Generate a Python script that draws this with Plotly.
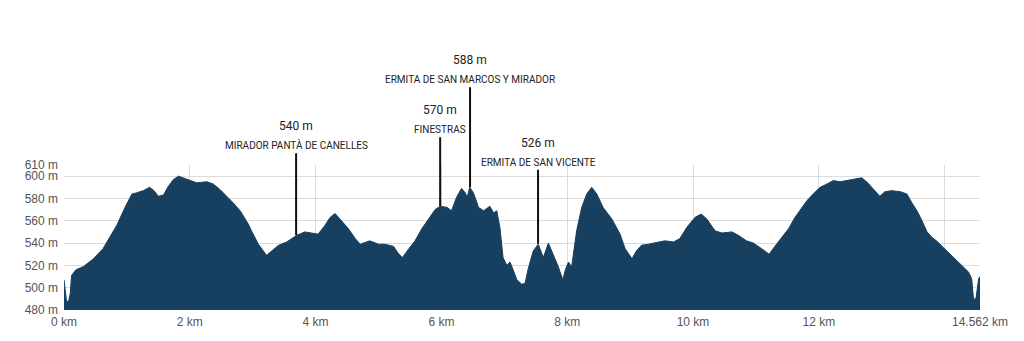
import plotly.graph_objects as go

# Elevation profile (distance km, elevation m)
dist_km = [0.00, 0.02, 0.04, 0.07, 0.10, 0.12, 0.19, 0.31, 0.47, 0.62, 0.73, 0.84, 0.97, 1.08, 1.15,
           1.26, 1.36, 1.43, 1.50, 1.58, 1.66, 1.74, 1.82, 1.92, 2.03, 2.11, 2.27, 2.37, 2.48, 2.59,
           2.69, 2.80, 2.93, 2.98, 3.09, 3.22, 3.30, 3.41, 3.54, 3.70, 3.83, 3.94, 4.04, 4.15, 4.23,
           4.31, 4.41, 4.52, 4.63, 4.71, 4.86, 5.00, 5.10, 5.24, 5.31, 5.38, 5.47, 5.58, 5.69, 5.79,
           5.90, 5.98, 6.09, 6.16, 6.24, 6.32, 6.38, 6.41, 6.45, 6.51, 6.59, 6.67, 6.77, 6.83, 6.88,
           6.93, 6.98, 7.04, 7.09, 7.14, 7.20, 7.28, 7.33, 7.38, 7.46, 7.54, 7.62, 7.70, 7.78, 7.86,
           7.93, 7.97, 8.02, 8.07, 8.15, 8.23, 8.31, 8.39, 8.47, 8.57, 8.71, 8.84, 8.92, 9.03, 9.10,
           9.18, 9.29, 9.45, 9.55, 9.69, 9.79, 9.90, 10.03, 10.13, 10.22, 10.35, 10.46, 10.62, 10.72,
           10.85, 10.96, 11.09, 11.21, 11.30, 11.41, 11.52, 11.62, 11.73, 11.81, 11.91, 12.02, 12.13,
           12.23, 12.34, 12.44, 12.58, 12.68, 12.76, 12.87, 12.97, 13.05, 13.16, 13.30, 13.40, 13.48,
           13.56, 13.64, 13.72, 13.80, 13.87, 13.98, 14.09, 14.19, 14.30, 14.38, 14.43, 14.46, 14.50,
           14.54, 14.562]
elev_m = [507, 495, 488, 487, 495, 511, 516, 519, 526, 535, 545, 556, 572, 584, 585,
          587, 590, 587, 582, 583, 591, 597, 600, 598, 596, 594, 595, 593, 588, 582,
          576, 569, 557, 551, 539, 529, 533, 538, 541, 547, 550, 549, 548, 556, 563,
          566.5, 560, 553, 544, 539, 542, 539, 539, 537, 531, 527, 534, 542, 553, 561.5,
          570, 573, 572, 569, 581, 589, 585, 581, 590, 585, 572, 569, 573, 567, 569,
          554, 527, 520, 523, 516, 507, 503, 504, 517, 533, 539, 527, 540, 530, 518.6,
          507, 516, 523, 518.6, 551, 572, 584, 590, 584, 572, 561.5, 548, 535, 526, 533,
          538, 539, 541, 542, 541, 544, 554, 563, 566, 561.5, 551, 549, 550, 547,
          542, 540, 535, 530, 537, 545, 553, 563, 572, 578, 584, 590, 593,
          596, 595, 596, 597, 598.5, 595, 588, 582, 586, 587, 586, 584, 576,
          569, 560, 550, 545, 542, 536, 530, 525, 519, 514, 508, 489, 491,
          508, 510]

# Axis ticks
y_ticks = [480, 500, 520, 540, 560, 580, 600, 610]
y_tick_text = ["480 m", "500 m", "520 m", "540 m", "560 m", "580 m", "600 m", "610 m"]
x_ticks = [0, 2, 4, 6, 8, 10, 12, 14, 14.562]
x_tick_text = ["0 km", "2 km", "4 km", "6 km", "8 km", "10 km", "12 km", "", "14.562 km"]

# Points of interest
poi_km = [3.69, 5.98, 6.455, 7.536]
poi_elev = [547, 573, 590, 539.5]
poi_label = ["540 m", "570 m", "588 m", "526 m"]
poi_name = ["MIRADOR PANTÀ DE CANELLES", "FINESTRAS", "ERMITA DE SAN MARCOS Y MIRADOR", "ERMITA DE SAN VICENTE"]
poi_line_px = [-82, -69, -100, -74]

FILL = "#173f5f"
ANN_FONT = "Roboto, sans-serif"
TICK_FONT = dict(family="Liberation Sans, Arial, sans-serif", size=12, color="#555")

fig = go.Figure()
fig.add_trace(go.Scatter(
    x=dist_km, y=elev_m, mode="lines", fill="tozeroy",
    line=dict(color=FILL, width=1), fillcolor=FILL, hoverinfo="skip", showlegend=False,
))

annotations = []
for km, el, lab, name, ay in zip(poi_km, poi_elev, poi_label, poi_name, poi_line_px):
    annotations.append(dict(
        x=km, y=el, xref="x", yref="y", text=name, showarrow=True,
        arrowhead=0, arrowwidth=2, arrowcolor="#111", ax=0, ay=ay,
        xanchor="center", yanchor="bottom", standoff=0, startstandoff=0,
        font=dict(family=ANN_FONT, size=10, color="#222"),
    ))
    annotations.append(dict(
        x=km, y=el, xref="x", yref="y", text=lab, showarrow=False,
        xanchor="center", yanchor="bottom", yshift=-ay + 18,
        font=dict(family=ANN_FONT, size=12, color="#222"),
    ))

fig.update_layout(
    width=1024, height=341,
    margin=dict(l=64, r=44, t=165, b=28),
    paper_bgcolor="white", plot_bgcolor="white",
    annotations=annotations,
    xaxis=dict(range=[0, 14.562], tickvals=x_ticks, ticktext=x_tick_text,
               showgrid=True, gridcolor="#dcdcdc", gridwidth=1, zeroline=False,
               showline=False, ticks="", fixedrange=True, ticklabelstandoff=3,
               tickfont=TICK_FONT),
    yaxis=dict(range=[480, 610], tickvals=y_ticks, ticktext=y_tick_text,
               showgrid=True, gridcolor="#dcdcdc", gridwidth=1, zeroline=False,
               showline=False, ticks="", fixedrange=True, ticklabelstandoff=5,
               tickfont=TICK_FONT),
)

fig.write_html("out.html")
